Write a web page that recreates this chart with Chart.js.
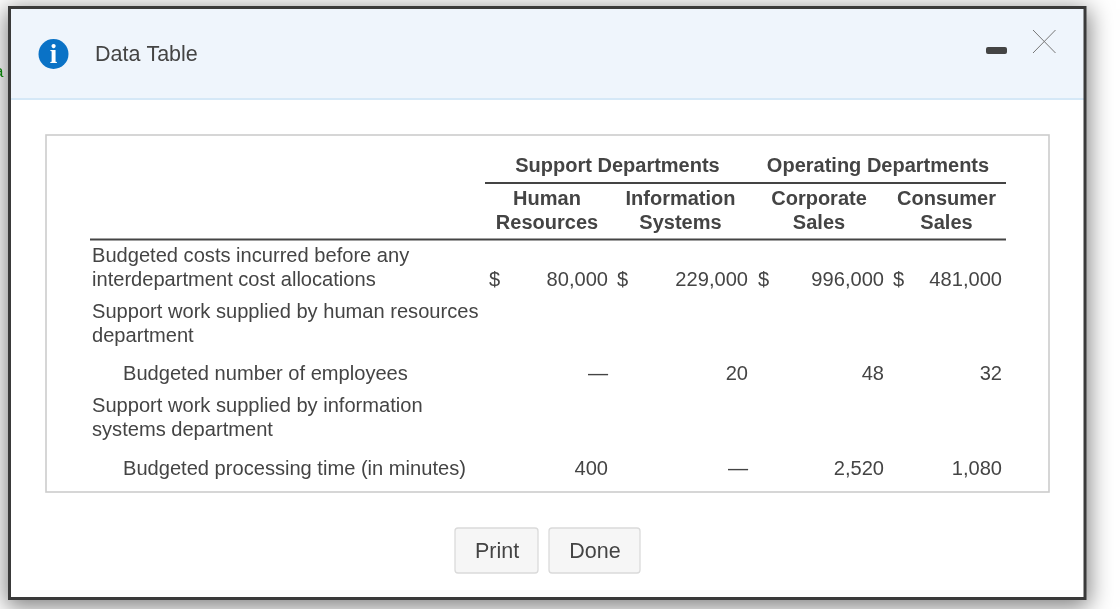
<!DOCTYPE html>
<html>
<head>
<meta charset="utf-8">
<title>Data Table</title>
<script src="https://cdn.jsdelivr.net/npm/chart.js@4"></script>
<style>
  html, body { margin: 0; padding: 0; background: #fff; overflow: hidden; }
  #wrap { position: relative; width: 1120px; height: 609px; overflow: hidden; }
  #shadow { position: absolute; left: 9px; top: 7px; width: 1077px; height: 592px; box-shadow: 0 5px 22px 3px rgba(0,0,0,0.5); }
  #table { position: relative; filter: blur(0.35px); }
</style>
</head>
<body>
<div id="wrap"><div id="shadow"></div><canvas id="table"></canvas></div>
<script>
// Table content
const dialogTitle = 'Data Table';
const groupHeaders = ['Support Departments', 'Operating Departments'];
const columnHeaders = [['Human', 'Resources'], ['Information', 'Systems'], ['Corporate', 'Sales'], ['Consumer', 'Sales']];
const rowLabels = [
  ['Budgeted costs incurred before any', 'interdepartment cost allocations'],
  ['Support work supplied by human resources', 'department'],
  ['Budgeted number of employees'],
  ['Support work supplied by information', 'systems department'],
  ['Budgeted processing time (in minutes)'],
];
const budgetedCosts = [80000, 229000, 996000, 481000];
const employees = [null, 20, 48, 32];
const processingMinutes = [400, null, 2520, 1080];
const buttonLabels = ['Print', 'Done'];

// Layout, in page pixels (the scales below map 1:1 on the page)
const COL_RIGHT = [608, 748, 884, 1002];
const COL_DOLLAR = [489, 617, 758, 893];
const COL_CENTER = [547, 680.5, 819, 946.5];
const GROUP_CENTER = [617.5, 878];
const ROW_BASE = { costs: 286, employees: 380, minutes: 475 };
const FONT = '"Liberation Sans", Arial, sans-serif';
const TEXT = '#444444';

function cell(col, row, value) {
  return { x: COL_RIGHT[col], y: ROW_BASE[row], value };
}

const valueRow = (values, row, dollar) => ({
  label: row,
  data: values.map((v, i) => cell(i, row, v)),
  showLine: false,
  pointRadius: 0,
  _dollar: dollar,
});

function text(ctx, str, x, y, opts = {}) {
  ctx.font = `${opts.weight || 'normal'} ${opts.size || 20.1}px ${opts.family || FONT}`;
  ctx.fillStyle = opts.color || TEXT;
  ctx.textAlign = opts.align || 'left';
  ctx.textBaseline = 'alphabetic';
  ctx.fillText(str, x, y);
}

function rule(ctx, x1, x2, y, color, width) {
  ctx.fillStyle = color;
  ctx.fillRect(x1, y, x2 - x1, width);
}

// Dialog frame, header bar and buttons behind the table
const dialogPlugin = {
  id: 'dialog',
  beforeDatasetsDraw(chart) {
    const { ctx } = chart;
    ctx.save();

    text(ctx, 'a', -6, 77, { color: '#0a7a0a', size: 17 });

    ctx.fillStyle = '#ffffff';
    ctx.fillRect(9, 7, 1077, 592);

    ctx.fillStyle = '#eff5fc';
    ctx.fillRect(11, 9, 1073, 89);
    rule(ctx, 11, 1084, 98, '#d5e8f7', 2);
    ctx.strokeStyle = '#3a3a3a';
    ctx.lineWidth = 3;
    ctx.strokeRect(9.5, 7.5, 1075.5, 591);

    // info icon
    ctx.fillStyle = '#0a72c6';
    ctx.beginPath();
    ctx.arc(53.5, 54, 15, 0, Math.PI * 2);
    ctx.fill();
    text(ctx, 'i', 53.5, 63, { color: '#ffffff', size: 27, weight: 'bold', align: 'center', family: '"Liberation Serif", serif' });

    text(ctx, dialogTitle, 95, 61, { size: 21.5 });

    // minimize and close
    ctx.fillStyle = '#444444';
    ctx.beginPath();
    ctx.roundRect(986, 47, 21, 7, 2);
    ctx.fill();
    ctx.strokeStyle = '#777777';
    ctx.lineWidth = 1;
    ctx.beginPath();
    ctx.moveTo(1033, 30); ctx.lineTo(1055.5, 53);
    ctx.moveTo(1055.5, 30); ctx.lineTo(1033, 53);
    ctx.stroke();

    // table box
    ctx.strokeStyle = '#cccccc';
    ctx.lineWidth = 1.6;
    ctx.strokeRect(46, 135, 1003, 357);

    // buttons
    [[455, 83], [549, 91]].forEach(([x, w], i) => {
      ctx.fillStyle = '#f6f6f6';
      ctx.strokeStyle = '#dadada';
      ctx.lineWidth = 1.3;
      ctx.beginPath();
      ctx.roundRect(x, 528, w, 45, 3);
      ctx.fill();
      ctx.stroke();
      text(ctx, buttonLabels[i], x + w / 2 + 0.5, 558, { size: 21.5, align: 'center' });
    });

    // table headers
    groupHeaders.forEach((h, i) => {
      text(ctx, h, GROUP_CENTER[i], 172, { weight: 'bold', align: 'center', size: 20 });
    });
    columnHeaders.forEach((lines, i) => {
      lines.forEach((l, j) => {
        text(ctx, l, COL_CENTER[i], 205 + j * 24, { weight: 'bold', align: 'center', size: 20 });
      });
    });
    rule(ctx, 485, 1006, 182, '#444444', 2);
    rule(ctx, 90, 1006, 238.5, '#444444', 2);

    // row labels
    const label = (lines, y, x = 92) => lines.forEach((l, j) => text(ctx, l, x, y + j * 24));
    label(rowLabels[0], 262);
    label(rowLabels[1], 318);
    label(rowLabels[2], 380, 123);
    label(rowLabels[3], 412);
    label(rowLabels[4], 475, 123);

    ctx.restore();
  },
};

// Writes each value at the position of its (invisible) scatter point
const cellPlugin = {
  id: 'cells',
  afterDatasetsDraw(chart) {
    const { ctx } = chart;
    ctx.save();
    chart.data.datasets.forEach((ds, d) => {
      chart.getDatasetMeta(d).data.forEach((pt, i) => {
        const v = ds.data[i].value;
        const str = v === null ? '—' : v.toLocaleString('en-US');
        text(ctx, str, pt.x, pt.y, { align: 'right' });
        if (ds._dollar) text(ctx, '$', COL_DOLLAR[i], pt.y);
      });
    });
    ctx.restore();
  },
};

new Chart(document.getElementById('table'), {
  type: 'scatter',
  plugins: [dialogPlugin, cellPlugin],
  data: {
    datasets: [
      valueRow(budgetedCosts, 'costs', true),
      valueRow(employees, 'employees', false),
      valueRow(processingMinutes, 'minutes', false),
    ],
  },
  options: {
    responsive: true,
    maintainAspectRatio: false,
    animation: false,
    layout: { padding: 0 },
    plugins: { legend: { display: false }, tooltip: { enabled: false } },
    scales: {
      x: { type: 'linear', min: 0, max: 1120, display: false },
      y: { type: 'linear', min: 0, max: 609, reverse: true, display: false },
    },
  },
});
</script>
</body>
</html>
